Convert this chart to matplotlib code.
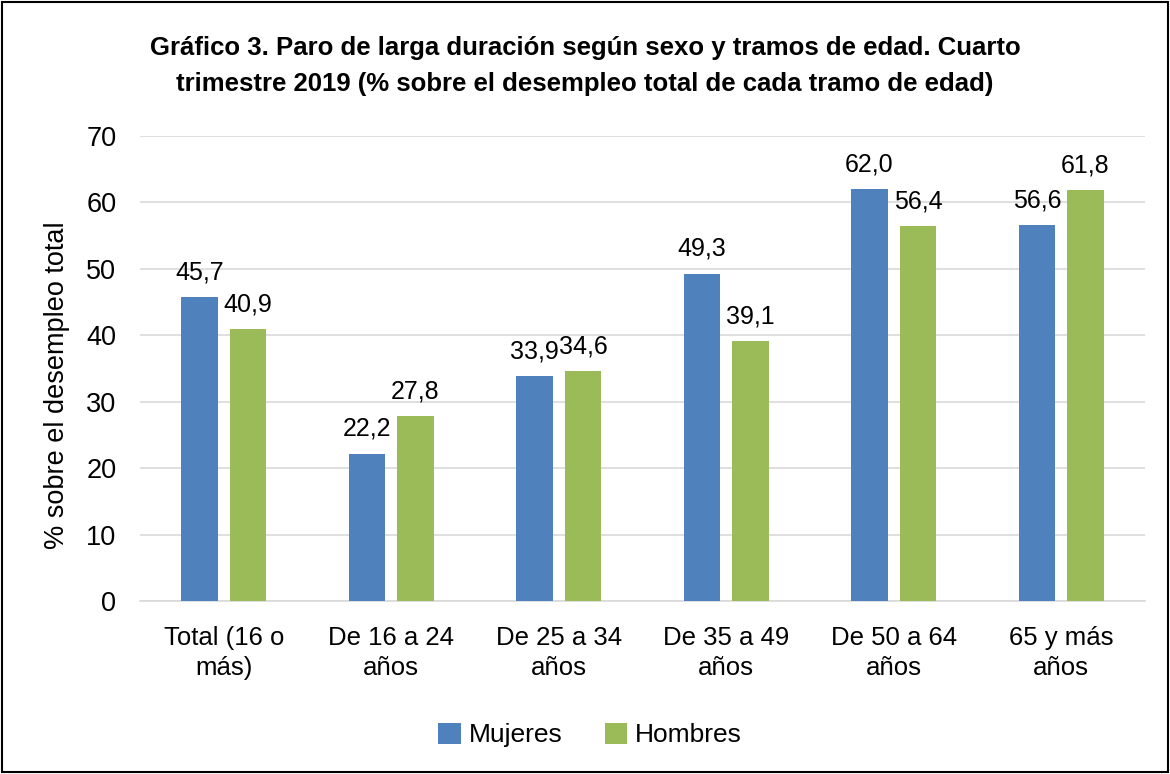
import matplotlib
matplotlib.use('Agg')
import matplotlib.pyplot as plt
import numpy as np
from matplotlib.patches import Rectangle

CATEGORIES = ['Total (16 o\nmás)', 'De 16 a 24\naños', 'De 25 a 34\naños',
              'De 35 a 49\naños', 'De 50 a 64\naños', '65 y más\naños']
MUJERES = [45.7, 22.2, 33.9, 49.3, 62.0, 56.6]
HOMBRES = [40.9, 27.8, 34.6, 39.1, 56.4, 61.8]
TITLE = ('Gráfico 3. Paro de larga duración según sexo y tramos de edad. Cuarto\n'
         'trimestre 2019 (% sobre el desempleo total de cada tramo de edad)')

plt.rcParams['font.family'] = ['Liberation Sans', 'DejaVu Sans']

BLUE = '#4F81BD'
GREEN = '#9BBB59'

fig = plt.figure(figsize=(11.7, 7.74), dpi=100)
ax = fig.add_axes([140 / 1170, 1 - 601 / 774, 1005 / 1170, 465 / 774])

x = np.arange(len(CATEGORIES))
w = 0.22
off = 0.145
b1 = ax.bar(x - off, MUJERES, w, color=BLUE, label='Mujeres', zorder=3)
b2 = ax.bar(x + off, HOMBRES, w, color=GREEN, label='Hombres', zorder=3)

for bars, vals in ((b1, MUJERES), (b2, HOMBRES)):
    for r, v in zip(bars, vals):
        ax.text(r.get_x() + r.get_width() / 2, v + 1.9, f'{v:.1f}'.replace('.', ','),
                ha='center', va='bottom', fontsize=18)

ax.set_xlim(-0.5, len(CATEGORIES) - 0.5)
ax.set_ylim(0, 70)
ax.set_yticks(range(0, 71, 10))
ax.set_xticks(x)
ax.set_xticklabels(CATEGORIES, fontsize=18.5, linespacing=1.3)
ax.tick_params(axis='y', labelsize=19.5, length=0, pad=17)
ax.tick_params(axis='x', length=0, pad=18)
ax.yaxis.grid(True, color='#D9D9D9', linewidth=1.2, zorder=0)
for s in ['top', 'right', 'left']:
    ax.spines[s].set_visible(False)
ax.spines['bottom'].set_color('#D9D9D9')
ax.spines['bottom'].set_linewidth(1.2)

fig.text(57 / 1170, 1 - 385 / 774, '% sobre el desempleo total', rotation=90,
         ha='center', va='center', fontsize=19.5)

fig.text(585 / 1170, 1 - 66 / 774, TITLE, ha='center', va='center',
         fontsize=18.5, fontweight='bold', linespacing=1.65)

fig.legend(handles=[b1, b2], loc='center', bbox_to_anchor=(590 / 1170, 1 - 735 / 774),
           ncol=2, frameon=False, fontsize=19, handlelength=0.85, handleheight=0.85,
           handletextpad=0.3, columnspacing=1.6)

fig.patches.append(Rectangle((0.002, 0.002), 0.996, 0.996, transform=fig.transFigure,
                             fill=False, edgecolor='black', linewidth=1.5))

fig.savefig('out.png', dpi=100)
